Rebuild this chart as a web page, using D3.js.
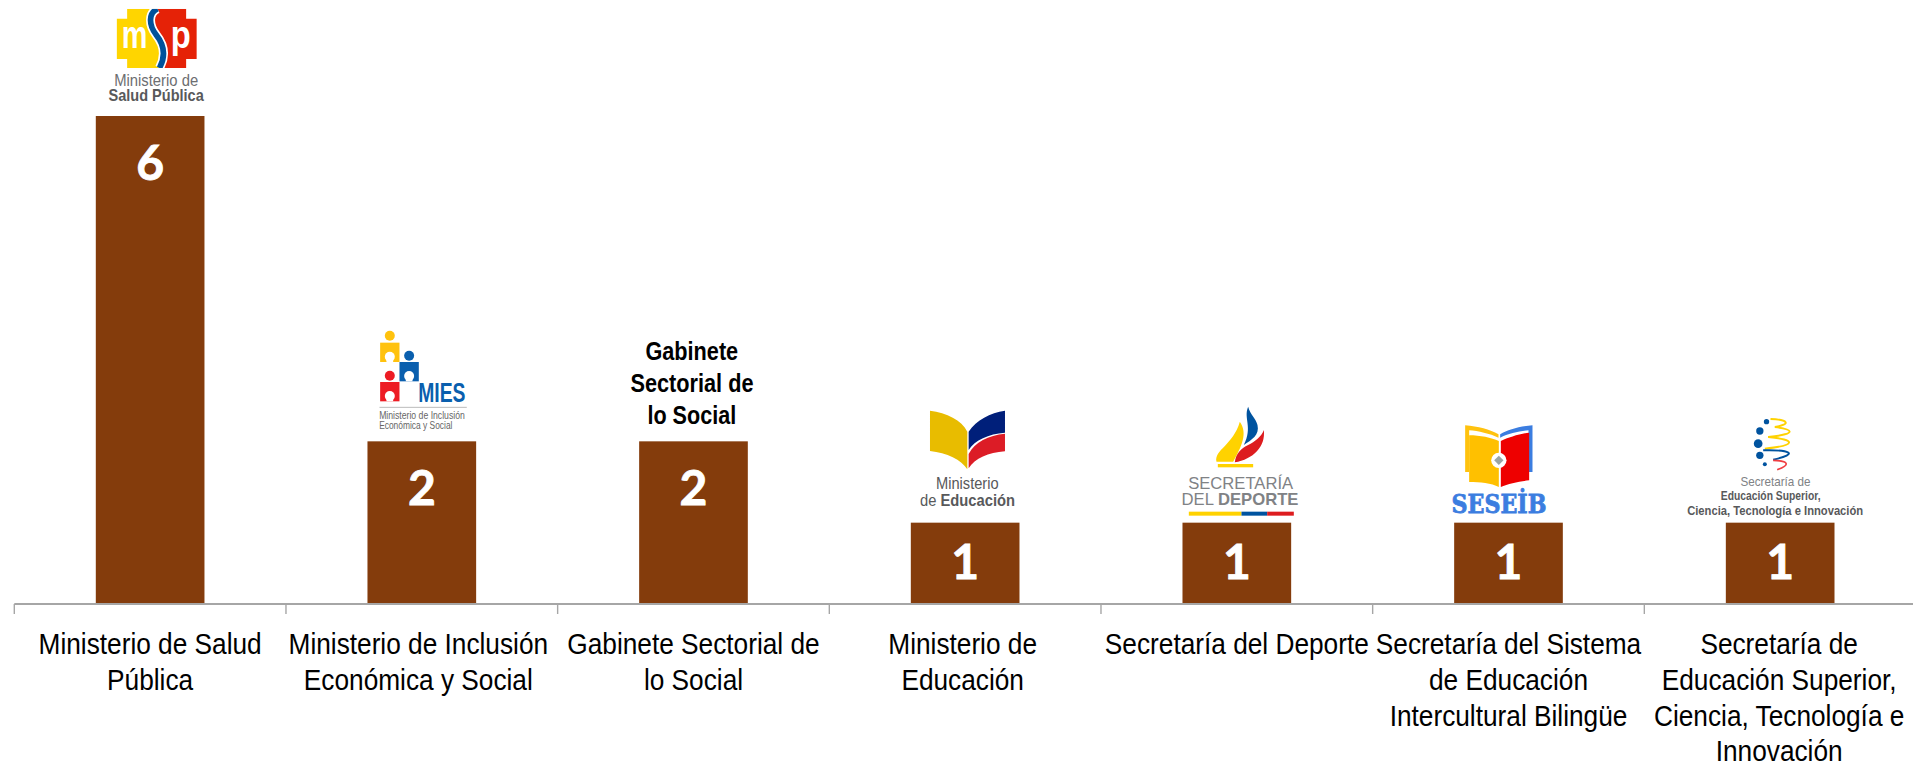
<!DOCTYPE html>
<html>
<head>
<meta charset="utf-8">
<script src="https://cdn.jsdelivr.net/npm/d3@7"></script>
<style>
  body { margin: 0; background: #fff; }
  svg { display: block; }
  text { font-family: "Liberation Sans", Arial, sans-serif; }
</style>
</head>
<body>
<div id="chart"></div>
<script>
const categoryLines = [
  ['Ministerio de Salud', 'Pública'],
  ['Ministerio de Inclusión', 'Económica y Social'],
  ['Gabinete Sectorial de', 'lo Social'],
  ['Ministerio de', 'Educación'],
  ['Secretaría del Deporte'],
  ['Secretaría del Sistema', 'de Educación', 'Intercultural Bilingüe'],
  ['Secretaría de', 'Educación Superior,', 'Ciencia, Tecnología e', 'Innovación']
];
const categories = categoryLines.map((d) => d.join(' '));
const values = [6, 2, 2, 1, 1, 1, 1];
const gabineteLines = ['Gabinete', 'Sectorial de', 'lo Social'];

const width = 1913;
const height = 768;
const axisY = 604;
const barTopMax = 116;

const svg = d3.select('#chart').append('svg')
  .attr('width', width)
  .attr('height', height);

const xScale = d3.scaleBand()
  .domain(categories)
  .range([14.3, 1916])
  .paddingInner(0.6)
  .paddingOuter(0.3);

const yScale = d3.scaleLinear()
  .domain([0, 6])
  .range([axisY, barTopMax]);

const tickScale = d3.scaleLinear()
  .domain([0, categories.length])
  .range(xScale.range());

svg.selectAll('.bar')
  .data(categories)
  .enter()
  .append('rect')
  .attr('class', 'bar')
  .attr('x', (d) => xScale(d))
  .attr('y', (d, i) => yScale(values[i]))
  .attr('width', xScale.bandwidth())
  .attr('height', (d, i) => axisY - yScale(values[i]))
  .attr('fill', '#843c0c');

svg.selectAll('.value')
  .data(categories)
  .enter()
  .append('text')
  .attr('class', 'value')
  .attr('x', (d) => xScale(d) + xScale.bandwidth() / 2)
  .attr('y', (d, i) => yScale(values[i]) + Math.min(64, (axisY - yScale(values[i])) / 2 + 16))
  .attr('text-anchor', 'middle')
  .attr('fill', '#fff')
  .attr('stroke', '#fff')
  .attr('stroke-width', 0.8)
  .style('font-family', 'Lato, sans-serif')
  .style('font-weight', 700)
  .style('font-size', '48px')
  .text((d, i) => values[i]);

// tick marks sit on the band edges, not the centres
const edgeAxis = svg.append('g')
  .attr('transform', `translate(0, ${axisY})`)
  .call(d3.axisBottom(tickScale)
    .tickValues(d3.range(categories.length + 1))
    .tickFormat('')
    .tickSize(10)
    .tickSizeOuter(0)
    .offset(0));
edgeAxis.select('.domain').attr('stroke', '#a6a6a6').attr('stroke-width', 2);
edgeAxis.selectAll('.tick line').attr('stroke', '#a6a6a6').attr('stroke-width', 1.4);

const labelAxis = svg.append('g')
  .attr('transform', `translate(0, ${axisY})`)
  .call(d3.axisBottom(xScale).tickSize(0).tickSizeOuter(0));
labelAxis.select('.domain').remove();
labelAxis.selectAll('.tick text').each(function (d, i) {
  // two labels sit a little left of their bar in the original
  const nudge = i === 1 ? -3.5 : i === 3 ? -2.5 : i === 6 ? -1 : 0;
  const label = d3.select(this)
    .text(null)
    .attr('y', 0)
    .attr('dy', null)
    .attr('fill', '#000')
    .attr('transform', `translate(${nudge}, 0) scale(0.875, 1)`)
    .style('font-size', '30px');
  categoryLines[i].forEach((line, n) => {
    label.append('tspan')
      .attr('x', 0)
      .attr('y', 50 + n * 35.8)
      .text(line);
  });
});

function squeeze(sel, len) {
  sel.attr('textLength', len).attr('lengthAdjust', 'spacingAndGlyphs');
}

// logos are drawn in 3x design units, anchored on the top centre of their bar
function logoGroup(i, ox, oy) {
  return svg.append('g')
    .attr('transform', `translate(${xScale(categories[i]) + xScale.bandwidth() / 2}, ${yScale(values[i])}) scale(${1 / 3}) translate(${-ox}, ${-oy})`);
}

function logoText(g, str, x0, x1, base, size, color, weight) {
  const t = g.append('text')
    .attr('x', x0)
    .attr('y', base)
    .attr('fill', color)
    .style('font-size', `${size}px`)
    .style('font-weight', weight || 400)
    .text(str);
  squeeze(t, x1 - x0);
  return t;
}

function drawMsp() {
  const g = logoGroup(0, 450, 349);
  const cross = 'M381,27H558V57H590V178H558V205H381V178H349V57H381Z';
  const sCurve = 'M472,27C445,40 445,75 468,105C492,135 497,170 478,205';
  g.append('clipPath').attr('id', 'msp-clip').append('path').attr('d', cross);
  const inner = g.append('g').attr('clip-path', 'url(#msp-clip)');
  inner.append('rect').attr('x', 349).attr('y', 27).attr('width', 130).attr('height', 178).attr('fill', '#ffd500');
  inner.append('path').attr('d', `${sCurve}L600,205V27Z`).attr('fill', '#e52207');
  inner.append('path').attr('d', sCurve).attr('fill', 'none').attr('stroke', '#fff').attr('stroke-width', 27);
  inner.append('path').attr('d', sCurve).attr('fill', 'none').attr('stroke', '#00529b').attr('stroke-width', 17);
  logoText(g, 'm', 365, 442, 146, 118, '#fff', 700);
  logoText(g, 'p', 512, 572, 146, 118, '#fff', 700);
  logoText(g, 'Ministerio de', 342, 594, 260, 47, '#6d6e71');
  logoText(g, 'Salud Pública', 325, 611, 305, 47, '#58595b', 700);
}

function drawMies() {
  const g = logoGroup(1, 245, 394);
  const pieces = [
    { x: 120, y: 98, knobY: 77, color: '#ffc20e' },
    { x: 178, y: 156, knobY: 137, color: '#0a5fae' },
    { x: 120, y: 216, knobY: 197, color: '#ed1c24' }
  ];
  pieces.forEach((p) => {
    g.append('rect').attr('x', p.x).attr('y', p.y).attr('width', 58).attr('height', 58).attr('fill', p.color);
    g.append('circle').attr('cx', p.x + 29).attr('cy', p.knobY).attr('r', 15).attr('fill', p.color);
    g.append('circle').attr('cx', p.x + 29).attr('cy', p.y + 42).attr('r', 15).attr('fill', '#fff');
    g.append('rect').attr('x', p.x + 19).attr('y', p.y + 48).attr('width', 20).attr('height', 10).attr('fill', '#fff');
  });
  logoText(g, 'MIES', 234, 376, 275, 84, '#0a5fae', 700);
  g.append('line').attr('x1', 118).attr('x2', 380).attr('y1', 292).attr('y2', 292).attr('stroke', '#bbb').attr('stroke-width', 3);
  logoText(g, 'Ministerio de Inclusión', 117, 374, 328, 33, '#666');
  logoText(g, 'Económica y Social', 117, 337, 358, 33, '#666');
}

function drawGabinete() {
  const g = logoGroup(2, 1060, 394);
  const spans = [[916, 1194], [871, 1240], [922, 1188]];
  gabineteLines.forEach((line, n) => {
    logoText(g, line, spans[n][0], spans[n][1], 150 + n * 96.5, 76, '#000', 700);
  });
}

function drawEducacion() {
  const g = logoGroup(3, 255.5, 398);
  g.append('path').attr('d', 'M150,62C200,68 245,90 262,125V238C245,210 200,188 150,183Z').attr('fill', '#e8bc00');
  g.append('path').attr('d', 'M266,125C290,90 330,68 375,62V128C325,132 285,150 266,180Z').attr('fill', '#001f7a');
  g.append('path').attr('d', 'M266,235C285,205 325,188 375,184V131C325,136 285,155 266,192Z').attr('fill', '#dc1c26');
  logoText(g, 'Ministerio', 168, 356, 297, 50, '#58595b');
  const t = logoText(g, 'de ', 120, 405, 348, 50, '#58595b');
  t.append('tspan').style('font-weight', 700).text('Educación');
}

function drawDeporte() {
  const g = logoGroup(4, 1071, 398);
  g.append('path').attr('d', 'M1010,215C1002,180 1060,165 1080,95C1105,130 1085,170 1060,215Z').attr('fill', '#ffd200');
  g.append('path').attr('d', 'M1105,50C1090,85 1120,110 1092,165C1115,150 1140,135 1133,105C1128,85 1112,75 1105,50Z').attr('fill', '#00539f');
  g.append('path').attr('d', 'M1152,120C1158,170 1120,208 1065,217C1068,190 1085,175 1105,165C1125,155 1145,140 1152,120Z').attr('fill', '#dd1c1f');
  g.append('rect').attr('x', 1014).attr('y', 222).attr('width', 106).attr('height', 10).attr('fill', '#ffd200');
  logoText(g, 'SECRETARÍA', 925, 1240, 297, 50, '#808285');
  const t = logoText(g, 'DEL ', 905, 1256, 345, 50, '#808285');
  t.append('tspan').style('font-weight', 700).text('DEPORTE');
  g.append('rect').attr('x', 927).attr('y', 365).attr('width', 158).attr('height', 12).attr('fill', '#ffd200');
  g.append('rect').attr('x', 1085).attr('y', 365).attr('width', 77).attr('height', 12).attr('fill', '#00539f');
  g.append('rect').attr('x', 1162).attr('y', 365).attr('width', 80).attr('height', 12).attr('fill', '#dd1c1f');
}

function drawSeseib() {
  const g = logoGroup(5, 326, 367);
  g.append('path').attr('d', 'M196,215V75C235,78 270,88 296,102V112C270,100 235,92 208,90V215Z').attr('fill', '#ffc20e');
  g.append('path').attr('d', 'M398,215V75C360,78 325,88 301,102V112C325,100 360,92 386,90V215Z').attr('fill', '#3b7de0');
  g.append('path').attr('d', 'M208,105C240,105 275,112 297,122V260C275,248 240,245 208,245Z').attr('fill', '#ffc000');
  g.append('path').attr('d', 'M303,122C325,112 360,100 388,97V240C360,243 325,250 303,260Z').attr('fill', '#ee0000');
  g.append('circle').attr('cx', 297).attr('cy', 180).attr('r', 23).attr('fill', '#fff');
  g.append('path').attr('d', 'M297,166L311,180L297,194L283,180Z').attr('fill', '#9aa5a5');
  const t = logoText(g, 'SESEİB', 155, 440, 338, 80, '#3b7de0', 700);
  t.style('font-family', '"DejaVu Serif", serif')
    .attr('stroke', '#3b7de0')
    .attr('stroke-width', 2.5);
}

function drawSenescyt() {
  const g = logoGroup(6, 1141, 367);
  [[1100, 64, 8], [1080, 92, 11], [1075, 130, 13], [1080, 165, 11], [1095, 192, 6]].forEach((c) => {
    g.append('circle').attr('cx', c[0]).attr('cy', c[1]).attr('r', c[2]).attr('fill', '#00539f');
  });
  const wave = (d, color, w) => g.append('path').attr('d', d).attr('fill', 'none').attr('stroke', color).attr('stroke-width', w);
  wave('M1112,56C1165,58 1175,72 1125,80C1175,86 1200,100 1105,110', '#ffd200', 6);
  wave('M1105,110C1190,118 1190,135 1095,145', '#ffd200', 6);
  wave('M1090,150C1170,148 1200,160 1120,178', '#00539f', 6);
  wave('M1120,180C1170,182 1170,195 1132,208', '#ef3e42', 5);
  logoText(g, 'Secretaría de', 1022, 1232, 257, 38, '#808285');
  logoText(g, 'Educación Superior,', 963, 1262, 300, 38, '#58595b', 700);
  logoText(g, 'Ciencia, Tecnología e Innovación', 862, 1390, 345, 38, '#58595b', 700);
}

drawMsp();
drawMies();
drawGabinete();
drawEducacion();
drawDeporte();
drawSeseib();
drawSenescyt();
</script>
</body>
</html>
